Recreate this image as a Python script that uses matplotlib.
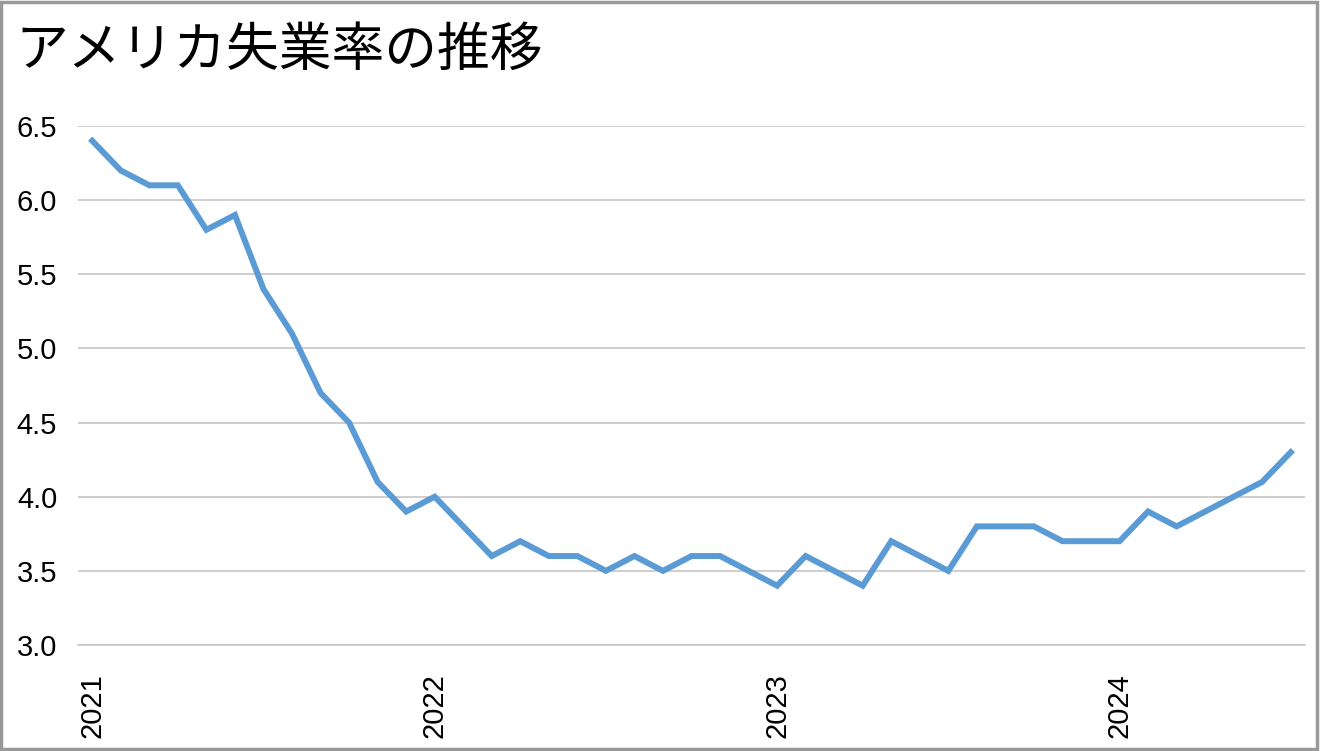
#!/usr/bin/env python3
"""US unemployment rate line chart (Excel-like style)."""

import matplotlib

matplotlib.use('Agg')
import matplotlib.pyplot as plt
from matplotlib.patches import Rectangle

# Monthly data, Jan 2021 - Jul 2024
rates = [
    6.4, 6.2, 6.1, 6.1, 5.8, 5.9, 5.4, 5.1, 4.7, 4.5, 4.1, 3.9,
    4.0, 3.8, 3.6, 3.7, 3.6, 3.6, 3.5, 3.6, 3.5, 3.6, 3.6, 3.5,
    3.4, 3.6, 3.5, 3.4, 3.7, 3.6, 3.5, 3.8, 3.8, 3.8, 3.7, 3.7,
    3.7, 3.9, 3.8, 3.9, 4.0, 4.1, 4.3,
]
year_labels = ['2021', '2022', '2023', '2024']
y_ticks = [3.0, 3.5, 4.0, 4.5, 5.0, 5.5, 6.0, 6.5]
title = 'アメリカ失業率の推移'

W, H = 1320, 751
fig = plt.figure(figsize=(W / 100, H / 100), dpi=100)
ax = fig.add_axes([78 / W, 1 - 645 / H, (1305 - 78) / W, (645 - 126) / H])

x = list(range(len(rates)))
ax.plot(x, rates, color='#5b9bd5', linewidth=4.3, solid_joinstyle='miter')

ax.set_xlim(-0.5, len(rates) - 0.5)
ax.set_ylim(3.0, 6.5)
ax.set_yticks(y_ticks)
ax.set_yticklabels([f'{v:.1f}' for v in y_ticks], family='Liberation Sans', fontsize=21)
ax.set_xticks([i * 12 for i in range(len(year_labels))])
ax.set_xticklabels(year_labels, rotation=90, family='Liberation Sans', fontsize=21)
ax.tick_params(axis='both', length=0)
ax.tick_params(axis='y', pad=15)
ax.tick_params(axis='x', pad=20)

ax.grid(axis='y', color='#c6c6c6', linewidth=1.2)
ax.set_axisbelow(True)
for side in ['left', 'right', 'top']:
    ax.spines[side].set_visible(False)
ax.spines['bottom'].set_color('#c6c6c6')
ax.spines['bottom'].set_linewidth(1.2)

fig.text(15 / W, 1 - 66 / H, title, family=['Noto Sans CJK JP', 'DejaVu Sans'],
         fontsize=38, ha='left', va='baseline')

# Gray outer border
fig.patches.append(Rectangle((0.001, 0.002), 0.997, 0.996, transform=fig.transFigure,
                             fill=False, edgecolor='#999999', linewidth=2.5))

fig.savefig('out.png', dpi=100)
plt.close(fig)
